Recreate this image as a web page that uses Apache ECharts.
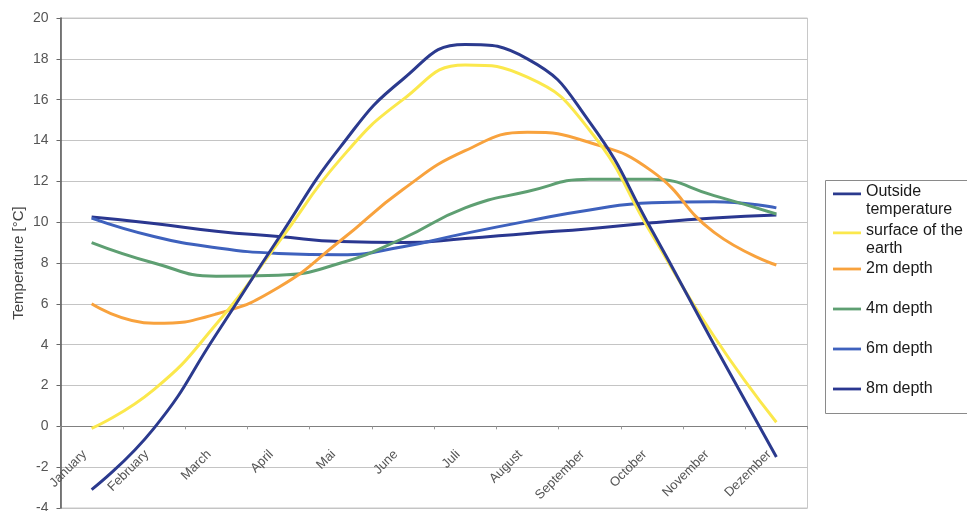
<!DOCTYPE html>
<html>
<head>
<meta charset="utf-8">
<script src="https://cdn.jsdelivr.net/npm/echarts@6/dist/echarts.min.js"></script>
<style>
html,body{margin:0;padding:0;background:#fff;}
#chart{width:967px;height:511px;}
</style>
</head>
<body>
<div id="chart"></div>
<script>
var months = ['January','February','March','April','Mai','June','Juli','August','September','October','November','Dezember'];
var yTicks = { min: -4, max: 20, interval: 2 };
var seriesNames = ['Outside\ntemperature', 'surface of the\nearth', '2m depth', '4m depth', '6m depth', '8m depth'];
var outsideTemp = [-3.1, -0.1, 4.5, 9.2, 13.7, 17.0, 18.7, 18.0, 14.9, 9.6, 4.0, -1.5];
var surfaceTemp = [-0.1, 1.8, 5.0, 9.0, 13.1, 16.0, 17.7, 17.1, 14.5, 9.4, 4.4, 0.2];
var depth2m = [6.0, 5.05, 5.5, 6.8, 9.1, 11.6, 13.5, 14.4, 13.9, 12.5, 9.5, 7.9];
var depth4m = [9.0, 8.0, 7.35, 7.4, 8.0, 9.2, 10.7, 11.5, 12.1, 12.1, 11.3, 10.4];
var depth6m = [10.2, 9.3, 8.75, 8.47, 8.4, 8.8, 9.45, 10.05, 10.6, 10.95, 11.0, 10.7];
var depth8m = [10.25, 9.94, 9.56, 9.3, 9.05, 9.0, 9.2, 9.45, 9.68, 9.97, 10.2, 10.35];
var colors = ['#2b3a8e', '#fbe84c', '#f8a23d', '#5e9f72', '#3e61bd', '#2a3790'];

var allData = [outsideTemp, surfaceTemp, depth2m, depth4m, depth6m, depth8m];
var FONT = '"Liberation Sans", Arial, sans-serif';
var topIcon = 'path://M0,0H30V3H0Z M0,18H0.01V18.01H0Z';
var midIcon = 'path://M0,0H30V3H0Z';

var GRID_TOP = 18, GRID_BOTTOM = 3, H = 511;
var plotH = H - GRID_TOP - GRID_BOTTOM;
// pixel distance from the bottom of the plot up to the value 0
var zeroOffset = plotH * (0 - yTicks.min) / (yTicks.max - yTicks.min);

var chart = echarts.init(document.getElementById('chart'), null, {renderer: 'canvas'});
var series = allData.map(function (d, i) {
  return {
    name: seriesNames[i],
    type: 'line',
    data: d,
    smooth: true,
    symbol: 'none',
    lineStyle: { color: colors[i], width: 3 },
    itemStyle: { color: colors[i] },
    z: 10 - i
  };
});

chart.setOption({
  animation: false,
  backgroundColor: '#ffffff',
  textStyle: { fontFamily: FONT },
  grid: { left: 60.5, right: 159.5, top: GRID_TOP, bottom: GRID_BOTTOM, containLabel: false, outerBoundsMode: 'none',
          show: true, borderColor: '#c8c8c8', borderWidth: 1 },
  graphic: [{
    type: 'rect', z: 0,
    shape: { x: 825.5, y: 180.5, width: 160, height: 233 },
    style: { fill: '#ffffff', stroke: '#8a8a8a', lineWidth: 1 }
  }],
  legend: [{
    orient: 'vertical', left: 833, top: 182.5, padding: 0,
    itemWidth: 28, itemHeight: 18, itemGap: 2.5,
    data: [
      { name: seriesNames[0], icon: topIcon },
      { name: seriesNames[1], icon: topIcon }
    ],
    textStyle: { fontFamily: FONT, fontSize: 16, color: '#1a1a1a', lineHeight: 18.3 },
    z: 5
  }, {
    orient: 'vertical', left: 833, top: 261, padding: 0,
    itemWidth: 28, itemHeight: 3, itemGap: 24,
    icon: midIcon,
    data: seriesNames.slice(2),
    textStyle: { fontFamily: FONT, fontSize: 16, color: '#1a1a1a', lineHeight: 16 },
    z: 5
  }],
  xAxis: {
    type: 'category',
    data: months,
    boundaryGap: true,
    position: 'bottom',
    offset: -zeroOffset,
    axisLine: { onZero: false, lineStyle: { color: '#808080', width: 1 } },
    axisTick: { show: true, length: 3, alignWithLabel: false, lineStyle: { color: '#999' } },
    axisLabel: { rotate: 45, margin: 19, fontSize: 13, color: '#555', fontFamily: FONT, interval: 0,
                 padding: [0, 10, 0, 0] },
    splitLine: { show: false }
  },
  yAxis: {
    type: 'value',
    min: yTicks.min, max: yTicks.max, interval: yTicks.interval,
    name: 'Temperature [°C]',
    nameLocation: 'middle',
    nameGap: 34,
    nameMoveOverlap: false,
    nameTextStyle: { fontFamily: FONT, fontSize: 15, color: '#444' },
    axisLine: { show: true, lineStyle: { color: '#555', width: 1.5 } },
    axisTick: { show: true, length: 4, lineStyle: { color: '#666' } },
    axisLabel: { fontSize: 14, color: '#555', margin: 12, fontFamily: FONT },
    splitLine: { show: true, lineStyle: { color: '#c4c4c4', width: 1 } }
  },
  series: series
});
</script>
</body>
</html>
